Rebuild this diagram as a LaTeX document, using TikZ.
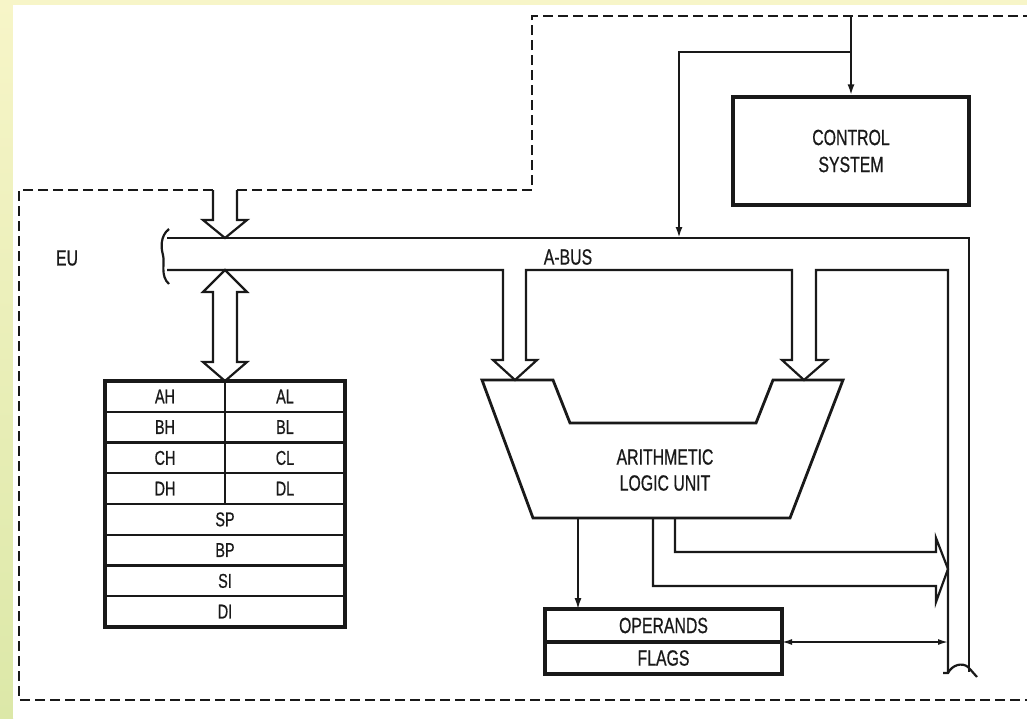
\documentclass[tikz,border=0pt]{standalone}
\usepackage{fontspec}
\setmainfont{Liberation Sans}[FakeStretch=0.72,FakeBold=0.6]
\usetikzlibrary{arrows.meta}
\definecolor{bgtop}{RGB}{247,245,200}
\definecolor{bgbot}{RGB}{220,232,168}
\definecolor{ink}{RGB}{25,25,25}
\begin{document}
\begin{tikzpicture}[x=1pt,y=-1pt,line join=miter,
  ln/.style={draw=ink,line width=2.2pt},
  thn/.style={draw=ink,line width=1.6pt},
  bnd/.style={draw=ink,line width=2.6pt,dash pattern=on 10pt off 5pt},
  bx/.style={draw=ink,line width=3.2pt},
  arr/.style={-{Latex[length=11pt,width=7pt]}},
  darr/.style={{Latex[length=10pt,width=6pt]}-{Latex[length=10pt,width=6pt]}},
  lbl/.style={font=\fontsize{22}{26}\selectfont,align=center,text=ink,inner sep=0pt},
  rg/.style={draw=ink,line width=2.2pt,font=\fontsize{20}{22}\selectfont,text=ink,inner sep=0pt,outer sep=0pt,minimum height=30.75pt}
]
\useasboundingbox (0,0) rectangle (1027,718);
% background
\fill[bgtop] (0,0) rectangle (1027,718);
\shade[top color=bgtop,bottom color=bgbot] (0,0) rectangle (13,718);
\fill[white] (13,5) rectangle (1027,718);

% dashed EU boundary
\draw[bnd] (213,190) -- (19,190) -- (19,700) -- (1027,700);
\draw[bnd] (237,190) -- (532,190) -- (532,16) -- (1027,16);

% control system
\node[bx,minimum width=236pt,minimum height=108pt,lbl,font=\fontsize{22}{27}\selectfont] (ctrl) at (851,151) {CONTROL\\SYSTEM};
\coordinate (ctop) at (851,16);
\coordinate (br) at (851,52);
\coordinate (bushit) at (679,238);
\draw[ln,arr] (ctop) -- (ctrl.north);
\draw[ln,arr] (br) -| (bushit);

% A-bus
\draw[ln] (167,238) -- (969,238) -- (969,672);
\draw[ln] (167,270) -- (503,270) -- (503,360) -- (493,360) -- (515,380) -- (537,360) -- (526,360) -- (526,270)
  -- (792,270) -- (792,360) -- (782,360) -- (804,380) -- (827,360) -- (816,360) -- (816,270) -- (948,270) -- (948,673);
% left bus end
\draw[ln] (169,229) .. controls (160,236) and (161,248) .. (163,255) .. controls (165,263) and (160,276) .. (169,284);
% bottom bus end
\draw[ln] (943,673) -- (948,673) .. controls (952,665) and (962,662) .. (968,667) .. controls (972,671) and (974,674) .. (977,677);

% arrow into bus from BIU
\draw[ln] (213,190) -- (213,220) -- (203,220) -- (225,238) -- (247,220) -- (237,220) -- (237,190);

% register double arrow
\draw[ln] (225,270) -- (247,292) -- (237,292) -- (237,362) -- (247,362) -- (225,381) -- (203,362) -- (213,362)
  -- (213,292) -- (203,292) -- cycle;

% registers
\node[rg,minimum width=120pt] (ah) at (165,396.4) {AH};
\node[rg,minimum width=120pt] (al) at (285,396.4) {AL};
\node[rg,minimum width=120pt] (bh) at (165,427.1) {BH};
\node[rg,minimum width=120pt] (bl) at (285,427.1) {BL};
\node[rg,minimum width=120pt] (ch) at (165,457.9) {CH};
\node[rg,minimum width=120pt] (cl) at (285,457.9) {CL};
\node[rg,minimum width=120pt] (dh) at (165,488.6) {DH};
\node[rg,minimum width=120pt] (dl) at (285,488.6) {DL};
\node[rg,minimum width=240pt] (sp) at (225,519.4) {SP};
\node[rg,minimum width=240pt] (bp) at (225,550.1) {BP};
\node[rg,minimum width=240pt] (si) at (225,580.9) {SI};
\node[rg,minimum width=240pt] (di) at (225,611.6) {DI};
\draw[bx] (ah.north west) rectangle (di.south east);

% ALU
\draw[ink,line width=2.8pt] (482,380) -- (553,380) -- (570,423) -- (756,423) -- (773,380) -- (843,380) -- (790,518) -- (533,518) -- cycle;
\node[lbl] (alu) at (665,470) {ARITHMETIC\\LOGIC UNIT};

% ALU output wide arrow to bus
\draw[ln] (653,518) -- (653,586) -- (936,586) -- (936,602) -- (948,569) -- (936,538) -- (936,552) -- (675,552) -- (675,518);

% operands / flags
\node[bx,lbl,minimum width=237pt,minimum height=33pt,outer sep=0pt] (ops) at (663.5,625.5) {OPERANDS};
\node[bx,lbl,minimum width=237pt,minimum height=32pt,outer sep=0pt] (flags) at (663.5,658) {FLAGS};
\draw[ink,line width=2pt] (ops.south west) -- (ops.south east);
\coordinate (aluo) at (578,518);
\draw[thn,arr] (aluo) -- (aluo |- ops.north);
\coordinate (busin) at (948,642);
\draw[thn,darr] (ops.south east) -- (busin);

% labels
\node[lbl] (eu) at (67,258) {EU};
\node[lbl] (abus) at (568,257) {A-BUS};
\end{tikzpicture}
\end{document}
